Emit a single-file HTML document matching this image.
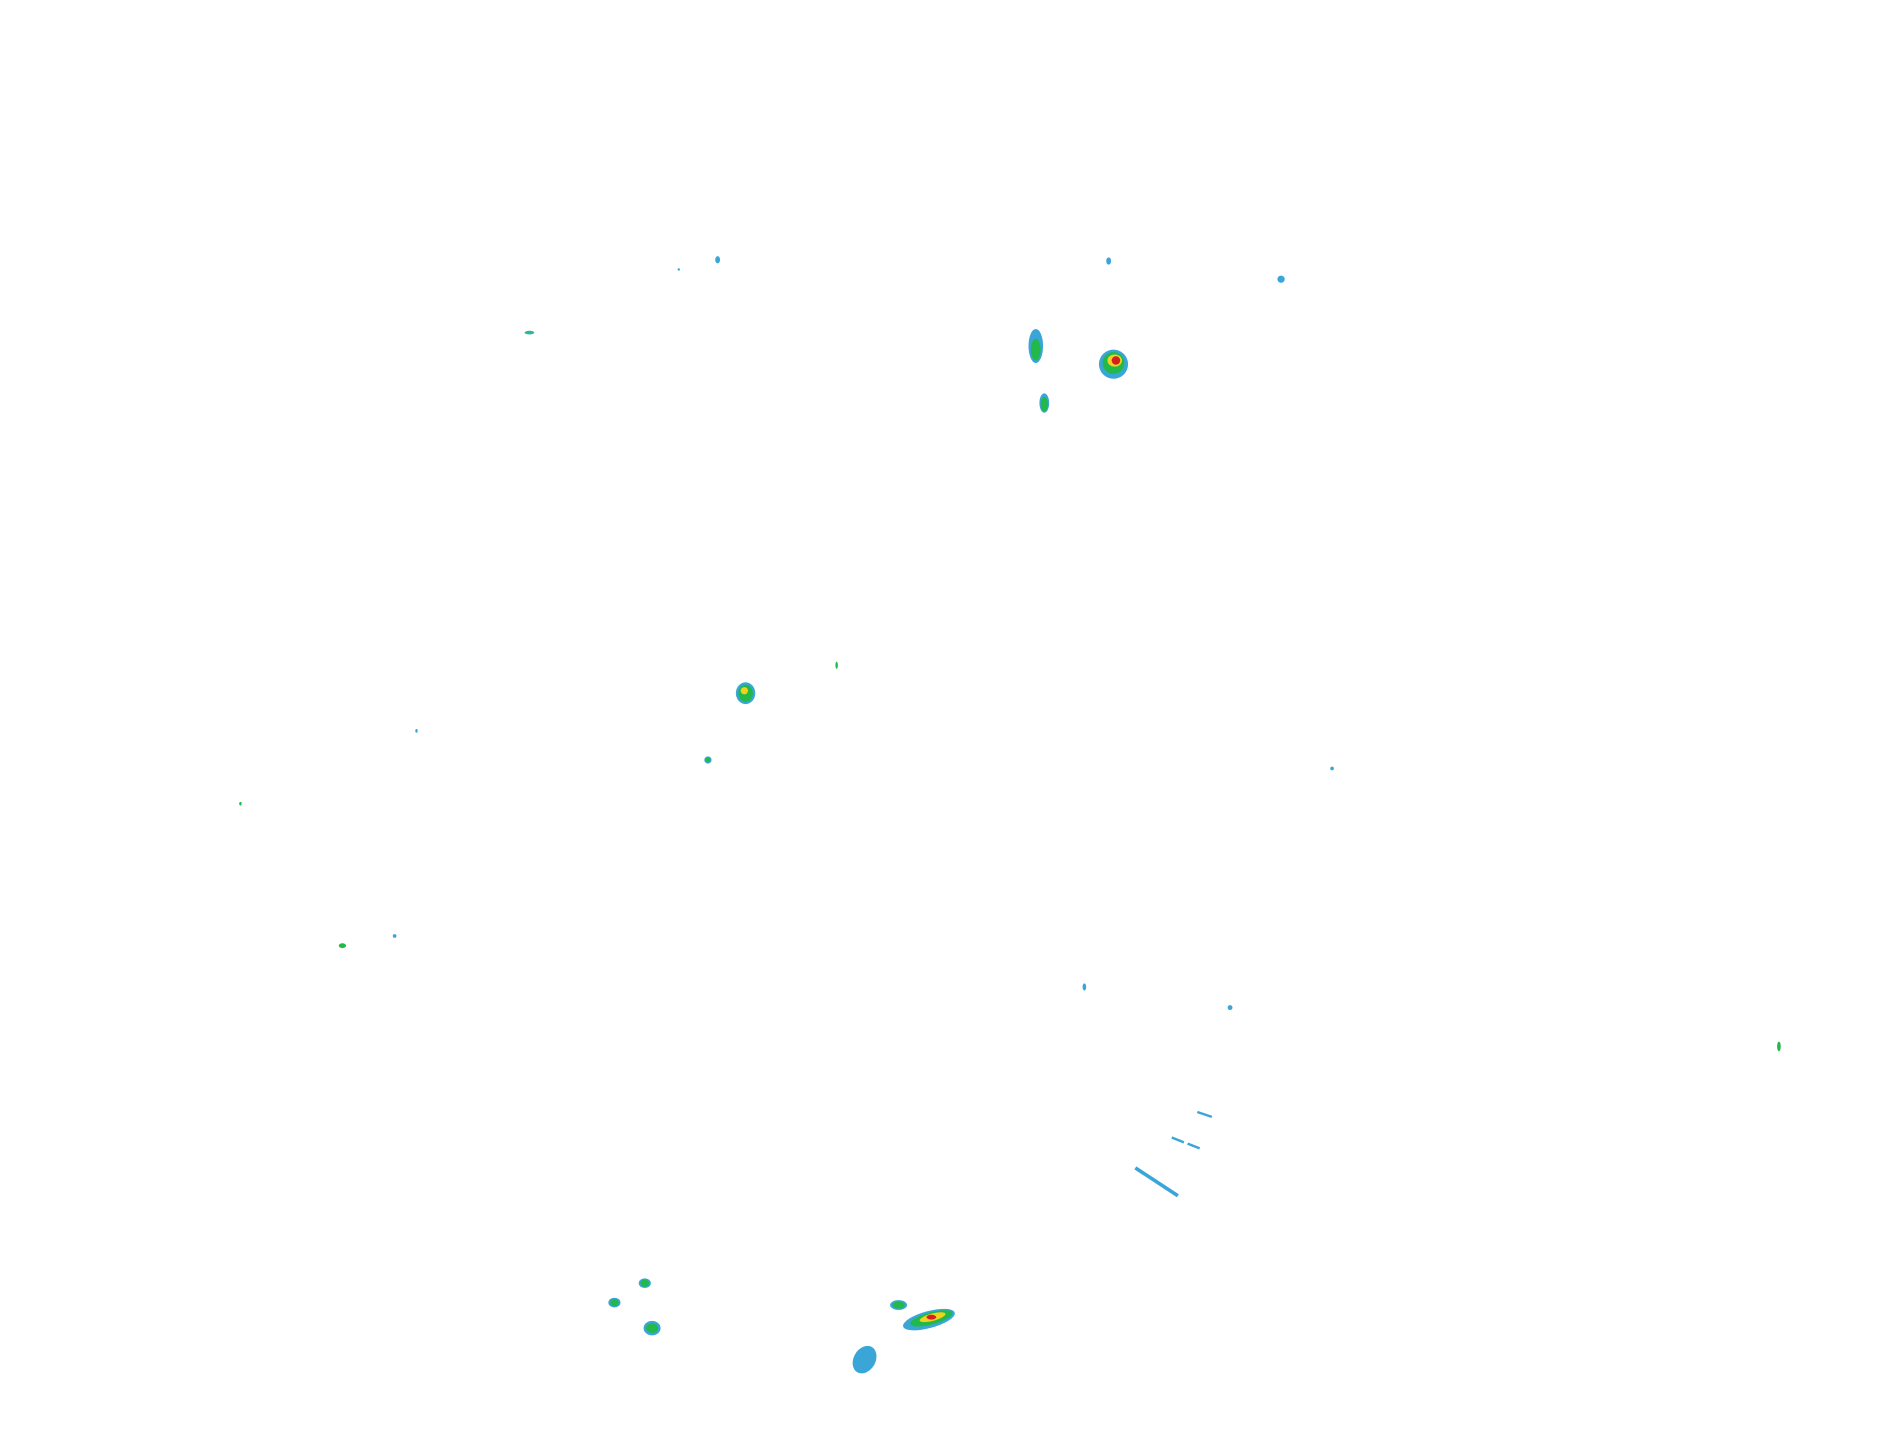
<!DOCTYPE html>
<html><head><meta charset="utf-8"><style>html,body{margin:0;padding:0;background:#fff;width:1904px;height:1441px;overflow:hidden}</style></head>
<body>
<svg width="1904" height="1441" viewBox="0 0 1568 1187" preserveAspectRatio="none" xmlns="http://www.w3.org/2000/svg">
<g fill="#3aa6d8">
<ellipse cx="591" cy="214" rx="2" ry="3"/>
<ellipse cx="559" cy="222" rx="1" ry="1"/>
<ellipse cx="436" cy="274" rx="4" ry="1.5" fill="#2cb5a0"/>
<ellipse cx="913" cy="215" rx="2" ry="3"/>
<ellipse cx="1055" cy="230" rx="3" ry="3"/>
<ellipse cx="343" cy="602" rx="1" ry="1.5"/>
<ellipse cx="1097" cy="633" rx="1.5" ry="1.5"/>
<ellipse cx="325" cy="771" rx="1.5" ry="1.5"/>
<ellipse cx="893" cy="813" rx="1.5" ry="3"/>
<ellipse cx="1013" cy="830" rx="2" ry="2"/>
<line x1="986" y1="916" x2="998" y2="920" stroke="#3aa6d8" stroke-width="2"/>
<line x1="965" y1="937" x2="975" y2="941" stroke="#3aa6d8" stroke-width="2"/>
<line x1="978" y1="942" x2="988" y2="946" stroke="#3aa6d8" stroke-width="2"/>
<line x1="935" y1="962" x2="970" y2="985" stroke="#3aa6d8" stroke-width="3"/>
<ellipse cx="853" cy="285" rx="6" ry="14"/>
<ellipse cx="917" cy="300" rx="12" ry="12"/>
<ellipse cx="860" cy="332" rx="4" ry="8"/>
<ellipse cx="614" cy="571" rx="8" ry="9"/>
<ellipse cx="583" cy="626" rx="3" ry="3"/>
<ellipse cx="506" cy="1073" rx="5" ry="4"/>
<ellipse cx="531" cy="1057" rx="5" ry="4"/>
<ellipse cx="537" cy="1094" rx="7" ry="6"/>
<ellipse cx="740" cy="1075" rx="7" ry="4"/>
<ellipse cx="765" cy="1087" rx="22" ry="7" transform="rotate(-15 765 1087)"/>
<ellipse cx="712" cy="1120" rx="9" ry="12" transform="rotate(30 712 1120)"/>
</g>
<g fill="#22b84a">
<ellipse cx="853" cy="288" rx="4" ry="9"/>
<ellipse cx="917" cy="299" rx="9" ry="9"/>
<ellipse cx="860" cy="333" rx="3" ry="6"/>
<ellipse cx="614" cy="571" rx="6" ry="7"/>
<ellipse cx="583" cy="626" rx="2" ry="2"/>
<ellipse cx="689" cy="548" rx="1" ry="3"/>
<ellipse cx="198" cy="662" rx="1" ry="1.5"/>
<ellipse cx="282" cy="779" rx="3" ry="2"/>
<ellipse cx="1465" cy="862" rx="1.5" ry="4"/>
<ellipse cx="506" cy="1073" rx="3.5" ry="3"/>
<ellipse cx="531" cy="1057" rx="3.5" ry="3"/>
<ellipse cx="537" cy="1094" rx="5" ry="4"/>
<ellipse cx="740" cy="1075" rx="5" ry="3"/>
<ellipse cx="767" cy="1086" rx="18" ry="5" transform="rotate(-15 767 1086)"/>
</g>
<g fill="#f0d020">
<ellipse cx="918" cy="297" rx="6" ry="5"/>
<ellipse cx="613" cy="569" rx="3" ry="3"/>
<ellipse cx="768" cy="1085" rx="11" ry="3" transform="rotate(-15 768 1085)"/>
</g>
<g fill="#d42020">
<ellipse cx="919" cy="297" rx="3.5" ry="3.5"/>
<ellipse cx="767" cy="1085" rx="4" ry="2"/>
</g>
</svg>
</body></html>
